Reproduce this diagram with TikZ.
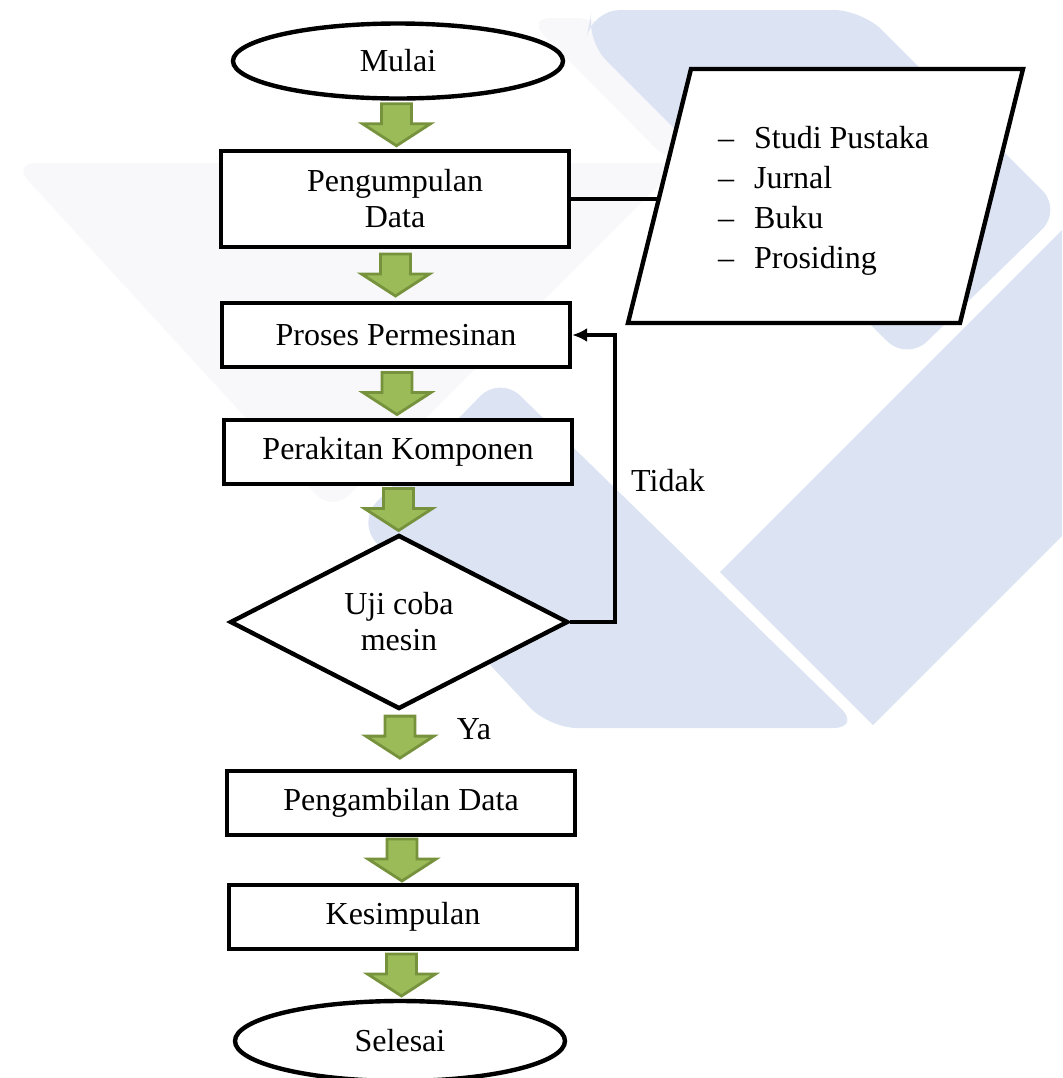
\documentclass[tikz,border=0pt]{standalone}
\usepackage{fontspec}
\setmainfont{Liberation Serif}
\usetikzlibrary{shapes.geometric,arrows.meta,calc}

\definecolor{wmblue}{RGB}{220,227,242}
\definecolor{wmgray}{RGB}{248,248,250}
\definecolor{olivefill}{RGB}{155,187,89}
\definecolor{olivedraw}{RGB}{118,146,60}

\tikzset{
	flowbox/.style={draw, line width=2.2pt, fill=white, inner sep=0pt, align=center,
		minimum width=174pt, minimum height=32pt},
	terminal/.style={flowbox, ellipse, minimum width=165pt, minimum height=37.5pt},
	decision/.style={flowbox, diamond, minimum width=169pt, minimum height=87pt},
	flowline/.style={line width=2.2pt},
	pics/greenarrow/.style={code={
		\draw[olivedraw, fill=olivefill, line width=1.4pt]
			(-15,-21) -- (15,-21) -- (15,-1) -- (34,-1) -- (0,21) -- (-34,-1) -- (-15,-1) -- cycle;
	}}
}

\begin{document}
\begin{tikzpicture}[x=0.5pt, y=-0.5pt, font=\fontsize{16}{18}\selectfont]
		\useasboundingbox (0,0) rectangle (1062,1078);
		\clip (0,0) rectangle (1062,1078);

		% watermark in the background
		\fill[wmgray, rounded corners=12] (12,163) -- (681,163) -- (332,512) -- cycle;
		\fill[wmgray, rounded corners=12] (527,18) -- (600,18) -- (740,158) -- (670,163) -- cycle;
		\fill[wmblue, rounded corners=14] (586,40) -- (592,10) -- (862,10) -- (1062,210) -- (907,361) -- cycle;
		\fill[wmblue, rounded corners=14] (500,376) -- (861,728) -- (549,728) -- (357,522) -- cycle;
		\fill[wmblue] (720,572) -- (1062,230) -- (1062,536) -- (873,725) -- cycle;

		% sources of the data
		\coordinate (ptl) at (691,69);
		\coordinate (ptr) at (1023,69);
		\coordinate (pbr) at (960,323);
		\coordinate (pbl) at (628,323);
		\coordinate (pmid) at ($(pbl)!0.5!(ptl)$);
		\draw[flowline, fill=white] (pbl) -- (ptl) -- (ptr) -- (pbr) -- cycle;
		\node[anchor=west, align=left, font=\fontsize{16}{20}\selectfont] (sumber) at (711,201)
			{\makebox[18pt][l]{--}Studi Pustaka\\ \makebox[18pt][l]{--}Jurnal\\
			 \makebox[18pt][l]{--}Buku\\ \makebox[18pt][l]{--}Prosiding};

		% the steps
		\node[terminal] (mulai) at (398,61) {Mulai};
		\node[flowbox, minimum height=48pt] (kumpul) at (395,199) {Pengumpulan\\Data};
		\node[flowbox] (proses) at (396,335) {Proses Permesinan};
		\node[flowbox] (rakit) at (398,452) {Perakitan Komponen};
		\node[decision] (uji) at (399,622) {Uji coba\\mesin};
		\node[flowbox] (ambil) at (401,803) {Pengambilan Data};
		\node[flowbox] (simpul) at (403,917) {Kesimpulan};
		\node[terminal, minimum height=40pt] (selesai) at (400,1041) {Selesai};

		% green arrows between the steps
		\pic at ($(mulai.south)!0.5!(kumpul.north)$) {greenarrow};
		\pic at ($(kumpul.south)!0.5!(proses.north)$) {greenarrow};
		\pic at ($(proses.south)!0.5!(rakit.north)$) {greenarrow};
		\pic at ($(rakit.south)!0.5!(uji.north)$) {greenarrow};
		\pic at ($(uji.south)!0.45!(ambil.north)$) {greenarrow};
		\pic at ($(ambil.south)!0.5!(simpul.north)$) {greenarrow};
		\pic at ($(simpul.south)!0.5!(selesai.north)$) {greenarrow};

		% connectors
		\draw[flowline] (kumpul.east) -- (kumpul.east -| pmid);
		\draw[flowline, -{Latex[length=7.5pt,width=7pt]}] (uji.east) -- ++(45,0) |- (proses.east);

		\node (tidak) at (668,481) {Tidak};
		\node (ya) at (474,729) {Ya};
\end{tikzpicture}
\end{document}
